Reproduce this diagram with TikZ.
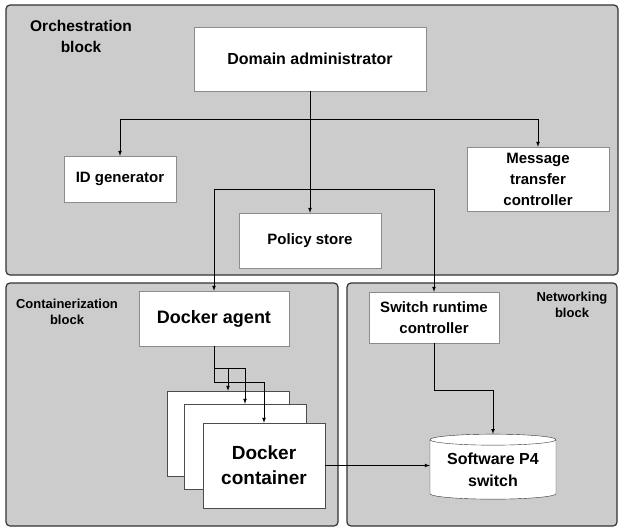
\documentclass[tikz,border=0pt]{standalone}
\usepackage{fontspec}
\setmainfont{Liberation Sans}
\usetikzlibrary{arrows, shapes.geometric}

\begin{document}
\begin{tikzpicture}[x=1pt, y=-1pt, >=latex,
    block node/.style={draw=black!80, fill=black!20, line width=1.2pt, rounded corners=4pt, inner sep=0pt},
    box node/.style={draw=black!45, fill=white, align=center, inner sep=0pt, font=\bfseries\fontsize{15}{21}\selectfont},
    stack node/.style={box node, draw=black!70, minimum width=122pt, minimum height=85pt},
    title node/.style={align=center, font=\bfseries\fontsize{13}{16}\selectfont},
    arrow/.style={->, line width=0.7pt, black}]
\useasboundingbox (0,0) rectangle (619,528);

\node[block node, minimum width=612pt, minimum height=270pt] (orch) at (312,140) {};
\node[block node, minimum width=332pt, minimum height=243pt] (cont) at (172,404.5) {};
\node[block node, minimum width=270pt, minimum height=243pt] (net) at (482,404.5) {};

\node[title node, font=\bfseries\fontsize{15.5}{21}\selectfont] (orchtitle) at (81,36) {Orchestration\\block};
\node[title node] (conttitle) at (67,312) {Containerization\\block};
\node[title node] (nettitle) at (572,305) {Networking\\block};

\node[box node, minimum width=232pt, minimum height=64pt, font=\bfseries\fontsize{16}{21}\selectfont] (adm) at (310,59) {Domain administrator};
\node[box node, minimum width=112pt, minimum height=46pt] (idg) at (120,179) {ID generator};
\node[box node, minimum width=142pt, minimum height=64pt] (msg) at (538,179) {Message\\transfer\\controller};
\node[box node, minimum width=142pt, minimum height=55pt] (pol) at (310,240.5) {Policy store};

\node[box node, minimum width=150pt, minimum height=55pt, font=\bfseries\fontsize{18}{22}\selectfont] (agent) at (214,318.5) {Docker agent};
\node[stack node] (c1) at (228,433.5) {};
\node[stack node] (c2) at (245,446.5) {};
\node[stack node, font=\bfseries\fontsize{19}{25}\selectfont] (c3) at (264,465.5) {Docker\\container};

\node[box node, minimum width=130pt, minimum height=51pt] (src) at (434,317.5) {Switch runtime\\controller};
\node[box node, draw=black!80, cylinder, shape border rotate=90, aspect=0.12, minimum width=126pt, minimum height=65pt, font=\bfseries\fontsize{16}{22}\selectfont] (p4) at (493,469.5) {Software P4\\switch};

\coordinate (split1) at (310,119);
\coordinate (split2) at (310,189);
\coordinate (fork1) at (214,368);
\coordinate (fork2) at (214,382);
\coordinate (srcbend) at (434,390);

\draw[arrow] (adm.south) -- (pol.north);
\draw[arrow] (split1) -| (idg.north);
\draw[arrow] (split1) -| (msg.north);
\draw[arrow] (split2) -| (agent.north);
\draw[arrow] (split2) -| (src.north);
\draw[line width=0.7pt] (agent.south) -- (fork2);
\draw[arrow] (fork1) -| (c1.north);
\draw[arrow] (fork1) -| (c2.north);
\draw[arrow] (fork2) -| (c3.north);
\draw[arrow] (c3.east) -- (c3.east -| p4.west);
\draw[arrow] (src.south) -- (srcbend) -| (p4.north);
\end{tikzpicture}
\end{document}
